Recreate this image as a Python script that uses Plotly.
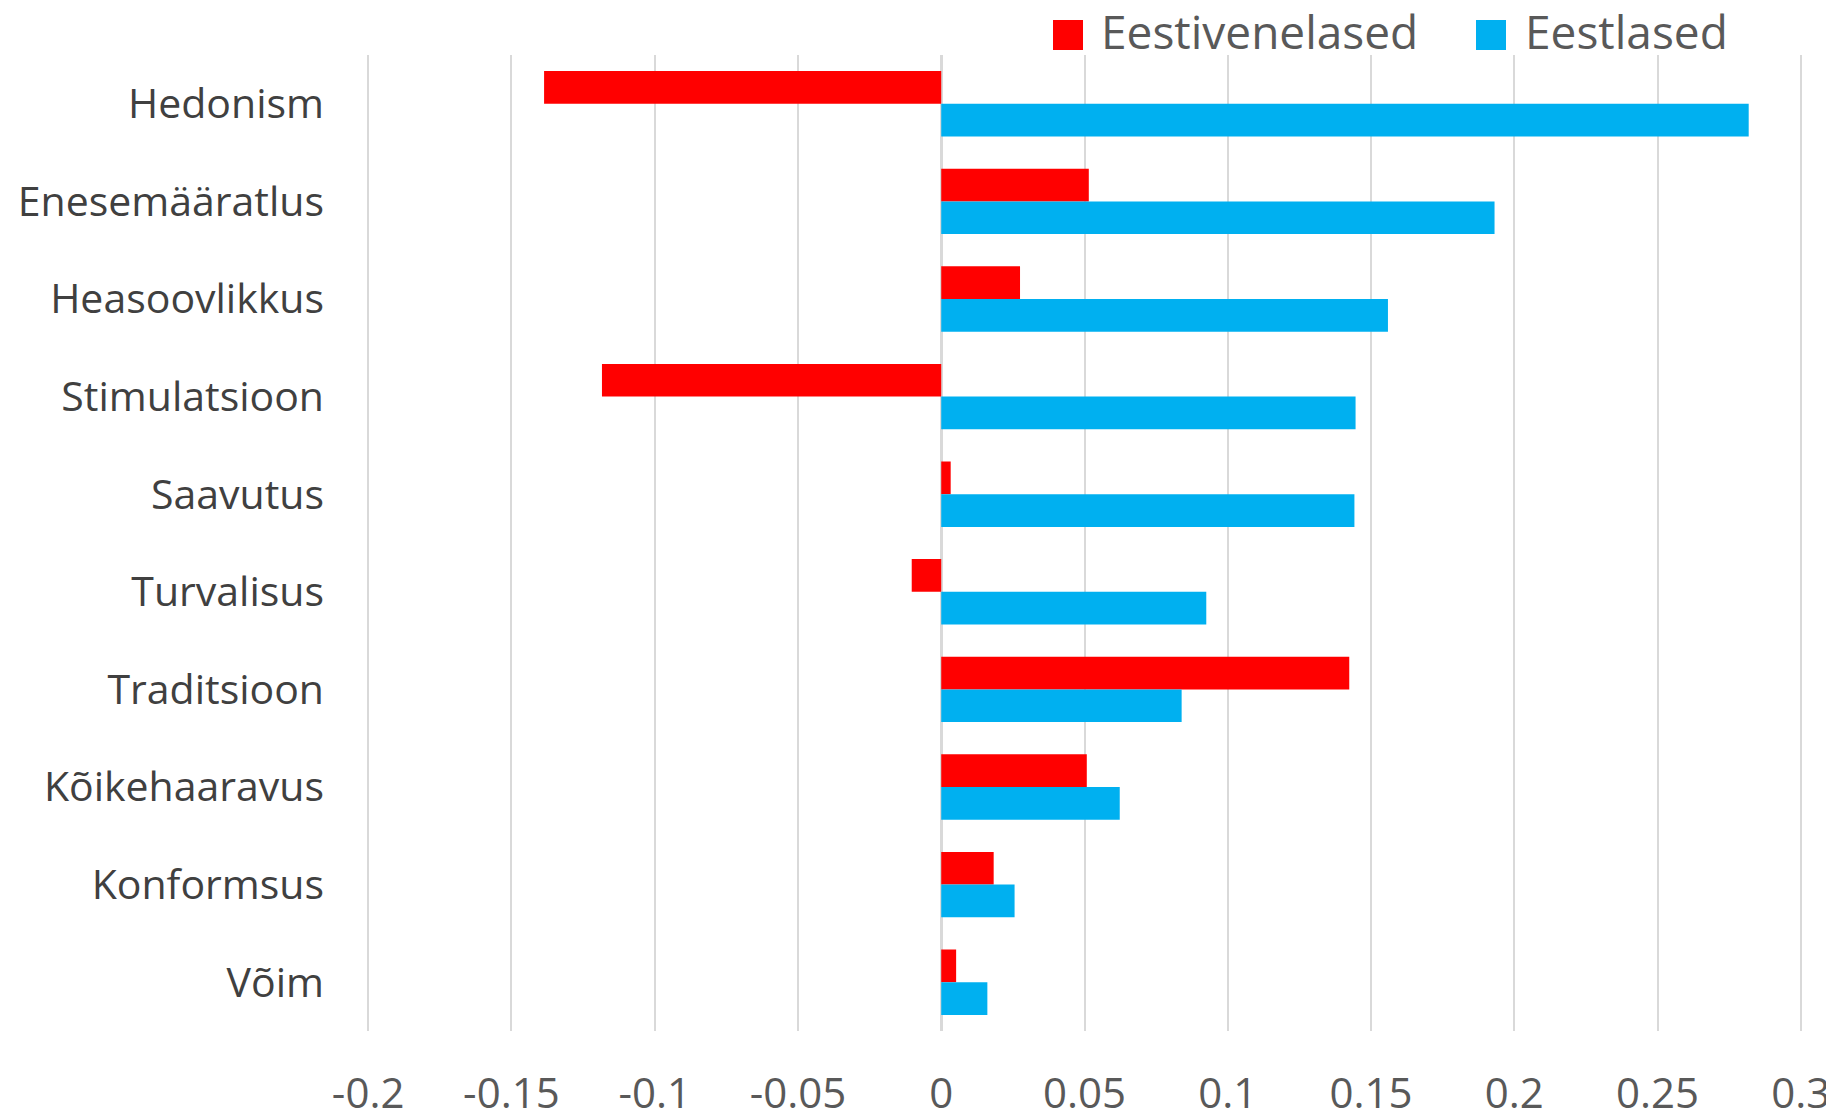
import plotly.graph_objects as go

categories = ["Hedonism", "Enesemääratlus", "Heasoovlikkus", "Stimulatsioon", "Saavutus",
              "Turvalisus", "Traditsioon", "Kõikehaaravus", "Konformsus", "Võim"]
series_names = ["Eestivenelased", "Eestlased"]
eestivenelased = [-0.1386, 0.0515, 0.0275, -0.1184, 0.0033, -0.0103, 0.1424, 0.0508, 0.0183, 0.0052]
eestlased = [0.2818, 0.1931, 0.1559, 0.1446, 0.1442, 0.0925, 0.0839, 0.0623, 0.0256, 0.0161]
x_ticks = [-0.2, -0.15, -0.1, -0.05, 0, 0.05, 0.1, 0.15, 0.2, 0.25, 0.3]
x_tick_labels = ["-0.2", "-0.15", "-0.1", "-0.05", "0", "0.05", "0.1", "0.15", "0.2", "0.25", "0.3"]
colors = ["#FF0000", "#00B0F0"]

FONT = "Open Sans, DejaVu Sans, sans-serif"

fig = go.Figure()
for name, vals, col in zip(series_names, [eestivenelased, eestlased], colors):
    fig.add_trace(go.Bar(y=categories, x=vals, name=name, orientation="h",
                         marker=dict(color=col, line=dict(width=0)), showlegend=False))

# page body has an 8px default margin; size the figure so it fills the window
OFF = 8
PAGE_W, PAGE_H = 1834, 1111
W, H = PAGE_W - OFF, PAGE_H - OFF
PL, PR, PT, PB = 367, 1802, 55, 1031      # plot area in page pixels
ML, MR, MT, MB = PL - OFF, PAGE_W - PR, PT - OFF, PAGE_H - PB
pw, ph = PR - PL, PB - PT

def px_x(p):
    return (p - PL) / pw

def px_y(p):
    return (PB - p) / ph

# custom legend (large square swatches like the original)
legend_pos = [(1053, 1099), (1476, 1523)]
shapes = []
annotations = []
for (sx, tx), name, col in zip(legend_pos, series_names, colors):
    shapes.append(dict(type="rect", xref="paper", yref="paper",
                       x0=px_x(sx), x1=px_x(sx + 30), y0=px_y(50), y1=px_y(20),
                       fillcolor=col, line=dict(width=0)))
    annotations.append(dict(xref="paper", yref="paper", x=px_x(tx), y=px_y(31),
                            xanchor="left", yanchor="middle", text=name, showarrow=False,
                            font=dict(family=FONT, size=46, color="#595959")))

pad = 0.0004
fig.update_layout(
    width=W, height=H,
    margin=dict(l=ML, r=MR, t=MT, b=MB, autoexpand=False),
    paper_bgcolor="white", plot_bgcolor="white",
    barmode="group", bargap=0.33, bargroupgap=0,
    shapes=shapes, annotations=annotations,
    xaxis=dict(range=[-0.2 - pad, 0.3 + pad], tickvals=x_ticks, ticktext=x_tick_labels,
               showgrid=True, gridcolor="#D9D9D9", gridwidth=2,
               zeroline=True, zerolinecolor="#D9D9D9", zerolinewidth=2.5,
               showline=False, ticks="", ticklabelstandoff=34, automargin=False,
               tickfont=dict(family=FONT, size=42, color="#595959")),
    yaxis=dict(autorange="reversed", showgrid=False, zeroline=False, showline=False,
               ticks="", ticklabelstandoff=42, automargin=False,
               tickfont=dict(family=FONT, size=41, color="#404040")),
    font=dict(family=FONT),
)

fig.write_html("out.html")
